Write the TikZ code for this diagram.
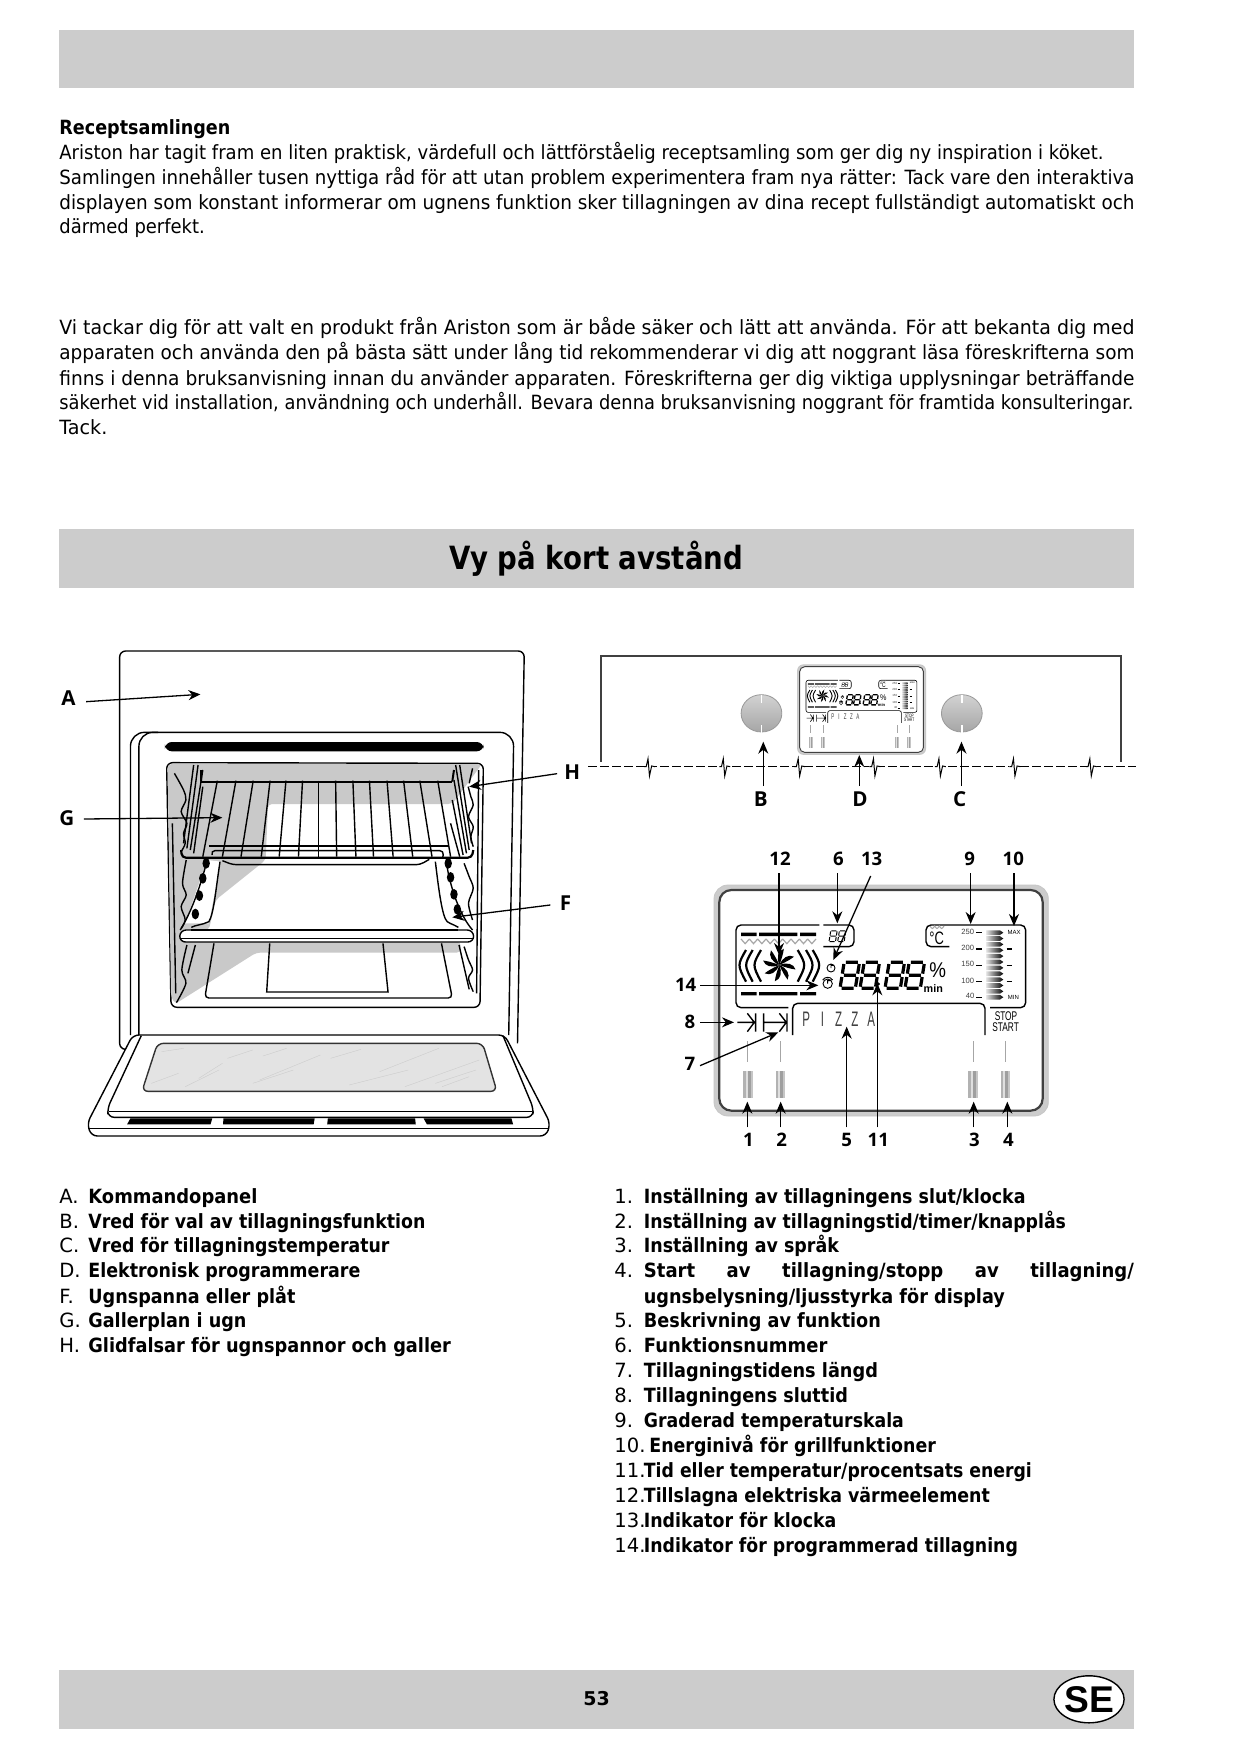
\documentclass[tikz,border=0pt]{standalone}
\usepackage{fontspec}
\usepackage{graphicx}
\setmainfont{DejaVu Sans}
\newfontfamily\lblfont{Open Sans}
\newfontfamily\arialfont{Liberation Sans}
\usetikzlibrary{arrows.meta,shapes.geometric}
\definecolor{band}{gray}{.8}
\definecolor{ovgray}{gray}{.79}
\definecolor{glass}{gray}{.89}
\definecolor{dk}{gray}{.25}
\newcommand\fitline[5]{\node[bodyline] (#1) at (#2,#3) {\resizebox{\dimexpr #4pt/2\relax}{\height}{#5}};}
\newcommand\plainline[4]{\node[bodyline] (#1) at (#2,#3) {#4};}
\newcommand\segdigit[4]{\begin{scope}[shift={(#1,#2)},xslant=.16,scale=#3]
\draw[line width=#4,black] (5,-78)--(41,-78) (5,-39)--(41,-39) (5,0)--(41,0) (0,-73)--(0,-44) (0,-34)--(0,-5) (46,-73)--(46,-44) (46,-34)--(46,-5);
\end{scope}}
\newcommand\plet[1]{\makebox[44.4pt][c]{#1}}
\newcommand\dispbody[1]{%
\def\dls{#1}%
\filldraw[draw=gray!45,fill=gray!40,rounded corners=\dls*7pt] (162,135) rectangle (1165,828);
\filldraw[draw=dk,fill=white,line width=\dls*1.1pt,rounded corners=\dls*6pt] (178,150) rectangle (1148,812);
\begin{scope}[line width=\dls*.7pt,black,rounded corners=\dls*2.5pt]
\draw (385,503)--(228,503)--(228,255)--(478,255);
\draw (490,255)--(582,255)--(582,320)--(490,320);
\draw (868,320)--(798,320)--(798,255)--(1097,255)--(1097,503)--(990,503);
\draw (398,585)--(398,490)--(975,490)--(975,585);
\end{scope}
\foreach \yy in {278,456}{
\fill (243,\yy) rectangle (290,\yy+10) (297,\yy) rectangle (412,\yy+10) (420,\yy) rectangle (468,\yy+10);}
\draw[gray!70,line width=\dls*.6pt] \foreach \i in {0,...,8}{({243+25*\i},297)--({255.5+25*\i},311)--({268+25*\i},297)};
\begin{scope}[line width=\dls*1.1pt,black]
\draw (258,330) .. controls (232,375) .. (258,425);
\draw (278,330) .. controls (252,375) .. (278,425);
\draw (303,330) .. controls (277,375) .. (303,425);
\draw (458,330) .. controls (484,375) .. (458,425);
\draw (438,330) .. controls (464,375) .. (438,425);
\draw (413,330) .. controls (439,375) .. (413,425);
\end{scope}
\foreach \a in {0,45,...,315}{
\fill[black,rotate around={\a:(358,375)}] (358,375) .. controls (368,352) and (385,342) .. (402,350) .. controls (392,358) and (378,366) .. cycle;}
\segdigit{540}{445}{1}{\dls*1.6pt}
\segdigit{600}{445}{1}{\dls*1.6pt}
\segdigit{675}{445}{1}{\dls*1.6pt}
\segdigit{735}{445}{1}{\dls*1.6pt}
\fill (655,432) circle (5);
\segdigit{507}{305}{.42}{\dls*.5pt}
\segdigit{533}{305}{.42}{\dls*.5pt}
\draw[line width=\dls*.45pt] (513,384) circle (12) (513,384)--(513,376)--(520,376);
\draw[line width=\dls*.45pt] (503,431) circle (14) (503,431)--(503,422)--(511,422) (488,420) .. controls (495,410) and (510,408) .. (518,420);
\node[dtext,font=\arialfont\fontsize{32}{36}\selectfont] (pct) at (833,391) {\scalebox{.88}[1]{\%}};
\node[dtext,font=\arialfont\bfseries\fontsize{16.2}{18}\selectfont] (mintxt) at (820,445) {min};
\node[dtext,font=\arialfont\fontsize{27}{30}\selectfont] (degc) at (830,296) {\scalebox{.72}[1]{°C}};
\draw[gray!70,line width=\dls*.5pt] (810,258) .. controls (817,268) .. (824,258) .. controls (831,268) .. (838,258) .. controls (845,268) .. (852,258);
\node[dtext,font=\arialfont\fontsize{11.4}{12}\selectfont,text=dk] (t250) at (923,277) {250};
\node[dtext,font=\arialfont\fontsize{11.4}{12}\selectfont,text=dk] (t200) at (923,325) {200};
\node[dtext,font=\arialfont\fontsize{11.4}{12}\selectfont,text=dk] (t150) at (923,373) {150};
\node[dtext,font=\arialfont\fontsize{11.4}{12}\selectfont,text=dk] (t100) at (923,423) {100};
\node[dtext,font=\arialfont\fontsize{11.4}{12}\selectfont,text=dk] (t40) at (930,467) {40};
\node[dtext,font=\arialfont\fontsize{9}{10}\selectfont] (tmax) at (1062,277) {MAX};
\node[dtext,font=\arialfont\fontsize{9}{10}\selectfont] (tmin) at (1060,473) {MIN};
\draw[line width=\dls*.3pt] (948,277)--(965,277) (948,376)--(965,376) (948,424)--(965,424) (1040,376)--(1057,376) (1040,424)--(1057,424);
\draw[line width=\dls*.7pt] (948,327)--(965,327) (948,473)--(965,473) (1040,327)--(1057,327);
\foreach \i [evaluate=\i as \yy using 278+\i*17.6] in {0,...,11}{
\shade[left color=gray!20,right color=black] (978,\yy-7)--(1020,\yy-7)--(1030,\yy)--(1020,\yy+7)--(978,\yy+7)--cycle;}
\begin{scope}[line width=\dls*.7pt,black]
\draw (232,547)--(280,547) (262,520)--(283,547)--(262,575) (287,520)--(287,575);
\draw (311,520)--(311,575) (311,547)--(376,547) (358,520)--(379,547)--(358,575) (381,520)--(381,575);
\end{scope}
\node[dtext,font=\arialfont\fontsize{31.5}{33}\selectfont,text=dk] (pizza) at (536,537) {\scalebox{.55}[1]{\plet P\plet I\plet Z\plet Z\plet A}};
\node[dtext,font=\arialfont\fontsize{18.9}{21}\selectfont] (stoptxt) at (1038,529) {\scalebox{.66}[1]{STOP}};
\node[dtext,font=\arialfont\fontsize{18.9}{21}\selectfont] (starttxt) at (1037,562) {\scalebox{.66}[1]{START}};
\draw[gray!70,line width=\dls*.35pt] (262,603)--(262,665) (361,603)--(361,665) (940,603)--(940,665) (1036,603)--(1036,665);
\foreach \xx in {250,347,925,1022}{
\fill[gray!60] (\xx,692) rectangle (\xx+8,775);
\fill[gray!25] (\xx+8,692) rectangle (\xx+14,775);
\fill[gray!75] (\xx+14,692) rectangle (\xx+22,775);
\fill[gray!45] (\xx+22,692) rectangle (\xx+28,775);}
}
\tikzset{
bodyline/.style={anchor=base west,inner sep=0pt,font=\fontsize{9.8}{12}\selectfont},
bandbox/.style={fill=band,draw=none},
dtext/.style={inner sep=0pt,transform shape},
lbl/.style={font=\lblfont\bfseries\fontsize{10.3}{11}\selectfont,inner sep=1pt},
nlbl/.style={font=\lblfont\bfseries\fontsize{9.3}{10}\selectfont,inner sep=1pt},
arr/.style={line width=.65pt,-{Stealth[length=6pt,width=5pt]}},
ol/.style={line width=.7pt,black},
olw/.style={line width=.7pt,draw=black,fill=white},
}
\begin{document}
\begin{tikzpicture}[x=.5pt,y=-.5pt]
\useasboundingbox (0,0) rectangle (1240,1755);
\fill[white] (0,0) rectangle (1240,1755);
% bands
\fill[bandbox] (59,30) rectangle (1134,88);
\fill[bandbox] (59,529) rectangle (1134,588);
\fill[bandbox] (59,1670) rectangle (1134,1729);
% text block 1
\fitline{r1}{59}{134.3}{171}{\bfseries Receptsamlingen}
\fitline{r2}{59}{159.7}{1044}{Ariston har tagit fram en liten praktisk, värdefull och lättförståelig receptsamling som ger dig ny inspiration i köket.}
\fitline{r3}{59}{184.3}{1075}{Samlingen innehåller tusen nyttiga råd för att utan problem experimentera fram nya rätter: Tack vare den interaktiva}
\fitline{r4}{59}{209}{1075}{displayen som konstant informerar om ugnens funktion sker tillagningen av dina recept fullständigt automatiskt och}
\fitline{r5}{59}{233.8}{145.5}{därmed perfekt.}
% text block 2
\fitline{v1}{59}{335}{1075}{Vi tackar dig för att valt en produkt från Ariston som är både säker och lätt att använda. För att bekanta dig med}
\fitline{v2}{59}{359.5}{1075}{apparaten och använda den på bästa sätt under lång tid rekommenderar vi dig att noggrant läsa föreskrifterna som}
\fitline{v3}{59}{385}{1075}{finns i denna bruksanvisning innan du använder apparaten. Föreskrifterna ger dig viktiga upplysningar beträffande}
\fitline{v4}{59}{409.5}{1074}{säkerhet vid installation, användning och underhåll. Bevara denna bruksanvisning noggrant för framtida konsulteringar.}
\fitline{v5}{59}{434.5}{48}{Tack.}
% title
\node[inner sep=0pt,font=\bfseries\fontsize{16}{18}\selectfont] (title) at (596,558.5) {\resizebox{147pt}{\height}{Vy på kort avstånd}};
% left list
\foreach \nm/\yy/\tx/\ww/\lt in {la/1203/Kommandopanel/169/A.,lb/1228/Vred för val av tillagningsfunktion/337/B.,lc/1252.5/Vred för tillagningstemperatur/301/C.,ld/1277.5/Elektronisk programmerare/272/D.,lf/1303/Ugnspanna eller plåt/207/F.,lg/1327.5/Gallerplan i ugn/158/G.,lh/1352.5/Glidfalsar för ugnspannor och galler/362.5/H.}{
\plainline{\nm k}{59}{\yy}{\lt}
\fitline{\nm}{88}{\yy}{\ww}{\bfseries \tx}
}
% right list
\foreach \nm/\yy/\tx/\ww/\lt in {n1/1203/Inställning av tillagningens slut\slash klocka/381.6/1.,n2/1228/Inställning av tillagningstid\slash timer\slash knapplås/422/2.,n3/1252.5/Inställning av språk/195/3.,n5/1327.5/Beskrivning av funktion/237/5.,n6/1352.5/Funktionsnummer/183.5/6.,n7/1377.5/Tillagningstidens längd/234/7.,n8/1402/Tillagningens sluttid/204/8.,n9/1427/Graderad temperaturskala/260/9.,n11/1477/Tid eller temperatur\slash procentsats energi/388/11.,n12/1502/Tillslagna elektriska värmeelement/346/12.,n13/1527/Indikator för klocka/192.5/13.,n14/1552/Indikator för programmerad tillagning/374/14.}{
\plainline{\nm k}{614}{\yy}{\lt}
\fitline{\nm}{643.5}{\yy}{\ww}{\bfseries \tx}
}
\plainline{n4k}{614}{1277.5}{4.}
\node[bodyline] (n4) at (643.5,1277.5) {\scalebox{.92}[1]{\makebox[266.3pt][s]{\bfseries Start av tillagning/stopp av tillagning/}}};
\fitline{n4b}{643.5}{1303}{361}{\bfseries ugnsbelysning/ljusstyrka för display}
\plainline{n10k}{614}{1452}{10.}
\fitline{n10}{649}{1452}{286.5}{\bfseries Energinivå för grillfunktioner}
% footer
\node[inner sep=0pt,font=\bfseries\fontsize{9.5}{11}\selectfont] (pg) at (596.5,1699) {53};
\node[draw=black,fill=white,line width=.7pt,ellipse,minimum width=35pt,minimum height=23.5pt,inner sep=0pt,font=\arialfont\bfseries\fontsize{18.6}{20}\selectfont] (se) at (1089,1699.3) {SE};
% oven
\begin{scope}[shift={(50,630)},xscale=1/2.958,yscale=1/3]
\draw[ol,rounded corners=3pt] (238,1258)--(206,1258)--(206,63)--(1403,63)--(1383,1240);
\draw[ol,rounded corners=7pt] (238,1215)--(238,307)--(1372,307)--(1357,1215);
\draw[ol,rounded corners=7pt] (263,1215)--(263,307)--(320,307);
\fill[black,rounded corners=3.5pt] (340,336) rectangle (1283,364);
% cavity
\filldraw[ol,fill=white,rounded corners=3pt] (345,398)--(1282,400)--(1272,1132)--(358,1132)--cycle;
\fill[ovgray,rounded corners=2pt] (348,402)--(1278,402)--(1190,522)--(645,522)--(638,690)--(490,810)--(470,900)--(385,900)--(385,935)--(1215,935)--(1215,968)--(610,968)--(370,1122)--(358,1100)--cycle;
% floor
\draw[ol,rounded corners=2pt] (485,940)--(458,1104)--(1190,1104)--(1158,940);
\draw[ol] (650,940)--(641,1086)--(1000,1086)--(985,940);
% side rails
\draw[ol] plot[smooth] coordinates {(368,430)(395,480)(402,510)(388,545)(405,580)(395,610)(400,640)(388,665)};
\draw[ol] plot[smooth] coordinates {(403,690)(392,760)(403,795)(388,830)(400,870)(385,900)};
\draw[ol] plot[smooth] coordinates {(405,945)(390,1020)(402,1060)(374,1118)};
\draw[ol] (425,405)--(395,640) (438,405)--(405,655) (452,420)--(415,660) (452,470)--(425,670);
\draw[ol] (430,945)--(408,1030);
\draw[ol] (362,580)--(372,1090);
\draw[ol] plot[smooth] coordinates {(1237,470)(1245,500)(1252,525)(1238,560)(1252,590)(1245,620)(1252,650)};
\draw[ol] plot[smooth] coordinates {(1225,700)(1240,740)(1252,775)(1238,820)(1250,870)};
\draw[ol] plot[smooth] coordinates {(1225,950)(1238,990)(1250,1020)(1238,1045)(1252,1085)};
\draw[ol] (1200,405)--(1240,660) (1212,405)--(1247,640) (1195,450)--(1232,670) (1190,510)--(1222,675) (1185,580)--(1212,680);
\draw[ol] (1210,945)--(1240,1078) (1268,420)--(1262,1090) (1250,415)--(1240,460);
% pan F
\fill[white] (465,690)--(505,695)--(470,880)--(400,880)--cycle;
\fill[white] (1140,690)--(1175,690)--(1235,890)--(1170,890)--cycle;
\draw[ol] (465,690) .. controls (440,790) and (410,860) .. (388,895);
\draw[ol] (503,695) .. controls (490,780) and (485,850) .. (470,875) .. controls (450,885) and (430,885) .. (418,892);
\draw[ol] (1140,695) .. controls (1150,780) and (1160,860) .. (1175,875) .. controls (1190,885) and (1200,885) .. (1208,892);
\draw[ol] (1172,695) .. controls (1185,780) and (1215,860) .. (1250,900);
\foreach \x/\y in {462/700,452/745,442/797,430/852,1178/700,1185/742,1195/793,1205/838}{\fill (\x,\y) ellipse (11 and 16);}
\filldraw[olw,rounded corners=3pt] (385,900)--(1252,900)--(1254,936)--(383,936)--cycle;
\draw[line width=1.1pt] (418,900)--(1208,900);
\draw[ol] (388,926)--(1250,926);
% rack
\draw[line width=1pt] (447,455)--(1190,455);
\foreach \a/\b in {495/452,550/510,601/565,651/625,698/678,747/735,795/795,845/848,896/905,945/957,997/1015,1046/1073,1094/1130,1147/1185}{\draw[line width=.7pt] (\a,452)--(\b,680);}
\draw[line width=1pt] (447,455)--(447,420) (1190,455)--(1195,420);
\draw[ol] (470,648)--(1178,648);
\draw[ol,rounded corners=2pt] (480,675)--(476,662)--(1165,662)--(1162,682);
\draw[ol,rounded corners=2pt] (510,692)--(540,704)--(1095,704)--(1122,688);
\draw[line width=1.1pt,rounded corners=2pt] (388,660)--(390,683)--(1248,683)--(1252,660);
% door
\filldraw[olw,rounded corners=3pt] (245,1215)--(1345,1215)--(1480,1480)--(1468,1518)--(122,1518)--(110,1480)--cycle;
\draw[ol,rounded corners=3pt] (270,1217)--(170,1435)--(172,1462)--(1428,1462)--(1430,1435)--(1340,1217);
\draw[ol] (175,1445)--(1425,1445);
\draw[ol] (115,1495)--(1476,1495);
\filldraw[line width=.7pt,draw=black!80,fill=glass,rounded corners=3pt] (318,1240)--(1280,1240)--(1322,1384)--(272,1384)--cycle;
\draw[gray!40,line width=.2pt] (330,1265)--(395,1255) (440,1345)--(510,1300) (525,1285)--(600,1260) (630,1278)--(700,1255) (600,1360)--(720,1320) (620,1350)--(800,1275) (830,1285)--(920,1258) (885,1365)--(1060,1320) (975,1325)--(1150,1255) (1050,1370)--(1270,1290) (1140,1360)--(1260,1320) (1160,1370)--(1240,1340) (300,1360)--(380,1330) (400,1370)--(500,1320);
\foreach \a/\b/\c/\d in {238/480/475/228,513/783/780/512,822/1080/1082/820,1105/1365/1370/1115}{\fill (\a,1465)--(\b,1465)--(\c,1483)--(\d,1483)--cycle;}
% labels
\node[lbl] (lA) at (55,205) {A};
\node[lbl] (lG) at (50,565) {G};
\node[lbl] (lH) at (1545,427) {H};
\node[lbl] (lF) at (1525,820) {F};
\coordinate (tA) at (445,193);
\coordinate (tG) at (510,563);
\coordinate (tH) at (1240,470);
\coordinate (tF) at (1190,862);
\coordinate (sA) at (107,215);
\coordinate (sG) at (100,567);
\coordinate (sH) at (1500,431);
\coordinate (sF) at (1480,825);
\draw[arr] (sA)--(tA);
\draw[arr] (sG)--(tG);
\draw[arr] (sH)--(tH);
\draw[arr] (sF)--(tF);
\end{scope}
% control panel
\begin{scope}[shift={(580,640)},xscale=1/2.75,yscale=1/3]
\draw[dk,line width=1.1pt] (58,365)--(58,48)--(1488,48)--(1488,365);
\draw[black,line width=.4pt,dash pattern=on 4.5pt off 1.5pt] (22,380)--(1530,380);
\foreach \x in {190,397,603,810,990,1195,1405}{
\fill[white] (\x-14,370) rectangle (\x+16,392);
\draw[line width=.5pt] (\x-14,380)--(\x-8,380)--(\x-3,356)--(\x+1,408)--(\x+7,378)--(\x+16,380);}
\foreach \nm/\x in {kb/499,kc/1050}{
\shade[top color=gray!35,bottom color=gray!70,draw=gray!80] (\x,220) circle (56);
\draw[white,line width=.9pt] (\x,165)--(\x,190) (\x,255)--(\x,280);}
\node[lbl] (lB) at (497,478) {B};
\node[lbl] (lD) at (770,478) {D};
\node[lbl] (lC) at (1044,478) {C};
\coordinate (tB) at (504,305);
\coordinate (tD) at (768,345);
\coordinate (tC) at (1049,305);
\coordinate (sB) at (504,438);
\coordinate (sD) at (768,438);
\coordinate (sC) at (1049,438);
\end{scope}
% mini display
\begin{scope}[shift={(776.9,647.3)},xscale=.383/3,yscale=.388/3,name prefix=mini-]
\dispbody{.42}
\end{scope}
\draw[arr] (sB)--(tB);
\draw[arr] (sD)--(tD);
\draw[arr] (sC)--(tC);
% main display
\begin{scope}[shift={(660,840)},scale=1/3]
\dispbody{1}
\foreach \nm/\t/\x/\y in {12/12/360/57,6/6/535/57,13/13/635/57,9/9/929/57,10/10/1060/57,14/14/77/435,8/8/90/547,7/7/90/673,1/1/265/900,2/2/365/900,3/3/943/900,4/4/1045/900,5/5/560/900,11/11/655/900}{
\node[nlbl] (d\nm) at (\x,\y) {\t};}
\foreach \nm/\a/\b/\c/\d in {12/357/100/357/345,6/532/100/532/250,13/632/108/520/360,9/932/100/932/252,10/1062/100/1062/258,14/120/436/475/436,8/120/547/222/547,7/120/677/355/577,1/262/862/262/785,2/362/862/362/785,3/941/862/941/785,4/1042/862/1042/785,5/560/862/560/560,11/652/862/652/430}{
\coordinate (s\nm) at (\a,\b);
\coordinate (e\nm) at (\c,\d);
\draw[arr] (s\nm)--(e\nm);}
\end{scope}
\end{tikzpicture}
\end{document}
